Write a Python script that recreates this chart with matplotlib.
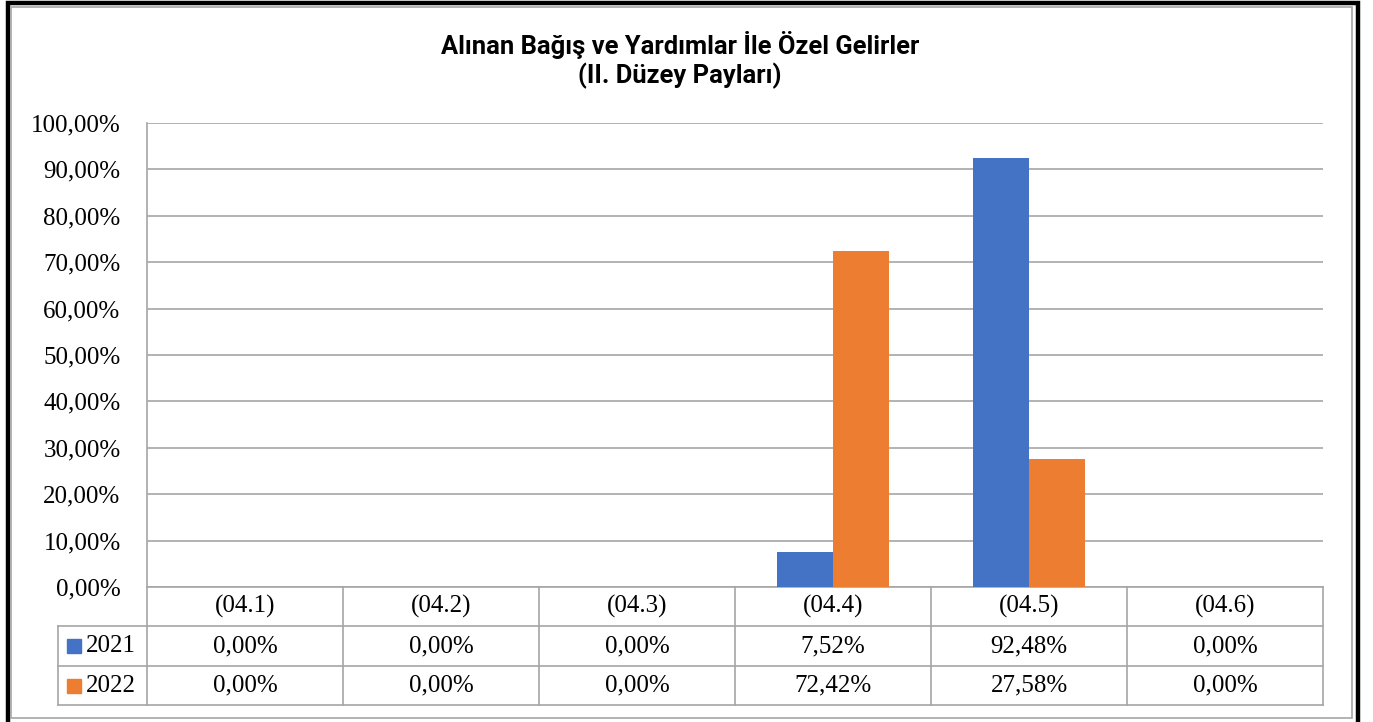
import matplotlib as mpl
mpl.use('Agg')
import matplotlib.pyplot as plt
from matplotlib import font_manager
from matplotlib.patches import Rectangle
from matplotlib.transforms import blended_transform_factory

categories = ['(04.1)', '(04.2)', '(04.3)', '(04.4)', '(04.5)', '(04.6)']
years = ['2021', '2022']
share_2021 = [0.00, 0.00, 0.00, 7.52, 92.48, 0.00]
share_2022 = [0.00, 0.00, 0.00, 72.42, 27.58, 0.00]
yticks = [0, 10, 20, 30, 40, 50, 60, 70, 80, 90, 100]

blue = '#4472C4'
orange = '#ED7D31'
gray = '#A6A6A6'

installed = {f.name for f in font_manager.fontManager.ttflist}
title_font = 'Roboto' if 'Roboto' in installed else 'DejaVu Sans'
serif = 'Liberation Serif'


def pct(v):
    return f'{v:.2f}'.replace('.', ',') + '%'


fig = plt.figure(figsize=(13.73, 7.22), dpi=100)
W, H = 1373, 722
ax = fig.add_axes([147 / W, 1 - 587 / H, (1323 - 147) / W, (587 - 123) / H])

x = list(range(len(categories)))
w = 0.285
ax.bar([i - w / 2 for i in x], share_2021, w, color=blue, zorder=3)
ax.bar([i + w / 2 for i in x], share_2022, w, color=orange, zorder=3)

ax.set_xlim(-0.5, len(categories) - 0.5)
ax.set_ylim(0, 100)
ax.set_yticks(yticks)
ax.set_yticklabels([pct(t) for t in yticks], fontfamily=serif, fontsize=18)
ax.set_xticks([])
ax.tick_params(axis='y', length=0, pad=19)
ax.grid(axis='y', color=gray, linewidth=1.2, zorder=0)
for s in ['top', 'right', 'bottom']:
    ax.spines[s].set_visible(False)
ax.spines['left'].set_color(gray)
ax.spines['left'].set_linewidth(1.2)

# data table under the plot
tr = blended_transform_factory(ax.transData, ax.transAxes)
ph = 587 - 123
r0, r1, r2, r3 = 0, -39 / ph, -79 / ph, -118 / ph
left_col = -89 / 1176
lk = dict(color=gray, linewidth=1.2, clip_on=False)
ax.plot([0, 1], [r0, r0], transform=ax.transAxes, **lk)
ax.plot([left_col, 1], [r1, r1], transform=ax.transAxes, **lk)
ax.plot([left_col, 1], [r2, r2], transform=ax.transAxes, **lk)
ax.plot([left_col, 1], [r3, r3], transform=ax.transAxes, **lk)
ax.plot([0, 0], [r0, r3], transform=ax.transAxes, **lk)
ax.plot([left_col, left_col], [r1, r3], transform=ax.transAxes, **lk)
for b in range(1, len(categories) + 1):
    ax.plot([b - 0.5, b - 0.5], [r0, r3], transform=tr, **lk)

tk = dict(transform=tr, ha='center', va='center', fontfamily=serif, fontsize=18, clip_on=False)
for i, c in enumerate(categories):
    ax.text(i, (r0 + r1) / 2, c, **tk)
    ax.text(i, (r1 + r2) / 2, pct(share_2021[i]), **tk)
    ax.text(i, (r2 + r3) / 2, pct(share_2022[i]), **tk)

for yr, col, (ra, rb) in zip(years, [blue, orange], [(r1, r2), (r2, r3)]):
    yc = (ra + rb) / 2
    ax.add_patch(Rectangle((-80 / 1176, yc - 7 / ph), 14 / 1176, 14 / ph,
                           transform=ax.transAxes, color=col, clip_on=False))
    ax.text(-61 / 1176, yc, yr, transform=ax.transAxes, ha='left', va='center',
            fontfamily=serif, fontsize=18, clip_on=False)

fig.text(680 / W, 1 - 60 / H, 'Alınan Bağış ve Yardımlar İle Özel Gelirler\n(II. Düzey Payları)',
         ha='center', va='center', fontfamily=[title_font, 'DejaVu Sans'],
         fontweight='bold', fontsize=18.4, linespacing=1.15)

# frame around the chart
fig.patches.append(Rectangle((7.5 / W, -0.05), 1350 / W, 1.05 - 3 / H, transform=fig.transFigure,
                             fill=False, edgecolor='black', linewidth=3.2))
fig.patches.append(Rectangle((11 / W, 1 - 718 / H), 1341 / W, 711 / H, transform=fig.transFigure,
                             fill=False, edgecolor=gray, linewidth=1.2))

fig.savefig('out.png', dpi=100)
